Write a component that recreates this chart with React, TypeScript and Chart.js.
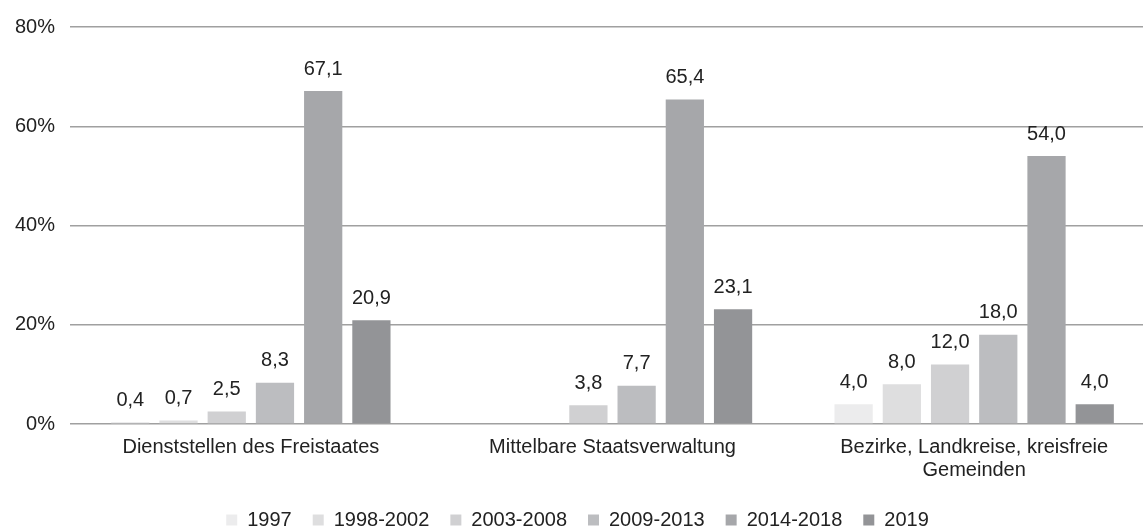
import React, { useEffect, useRef } from "react";
import { Chart, registerables } from "chart.js";

Chart.register(...registerables);

const categories: (string | string[])[] = [
  "Dienststellen des Freistaates",
  "Mittelbare Staatsverwaltung",
  ["Bezirke, Landkreise, kreisfreie", "Gemeinden"],
];
const seriesNames = ["1997", "1998-2002", "2003-2008", "2009-2013", "2014-2018", "2019"];
const v1997 = [0.4, null, 4.0];
const v1998 = [0.7, null, 8.0];
const v2003 = [2.5, 3.8, 12.0];
const v2009 = [8.3, 7.7, 18.0];
const v2014 = [67.1, 65.4, 54.0];
const v2019 = [20.9, 23.1, 4.0];
const seriesColors = ["#ececed", "#dededf", "#d0d0d2", "#bcbdc0", "#a6a7aa", "#939497"];
const yTicks = [0, 20, 40, 60, 80];

const FONT = "'Liberation Sans', Arial, sans-serif";
const FS = 20;

const labelPlugin = {
  id: "valueLabels",
  afterDatasetsDraw(chart: any) {
    const ctx = chart.ctx;
    ctx.save();
    ctx.font = `${FS}px ${FONT}`;
    ctx.fillStyle = "#222222";
    ctx.textAlign = "center";
    ctx.textBaseline = "middle";
    chart.data.datasets.forEach((ds: any, i: number) => {
      const meta = chart.getDatasetMeta(i);
      meta.data.forEach((bar: any, j: number) => {
        const v = ds.data[j];
        if (v === null || v === undefined) return;
        ctx.fillText(v.toFixed(1).replace(".", ","), bar.x, bar.y - 22);
      });
    });
    ctx.restore();
  },
};

export default function App() {
  const ref = useRef<HTMLCanvasElement>(null);
  useEffect(() => {
    document.body.style.margin = "0";
    const all = [v1997, v1998, v2003, v2009, v2014, v2019];
    const chart = new Chart(ref.current!, {
      type: "bar",
      data: {
        labels: categories,
        datasets: all.map((d, i) => ({
          label: seriesNames[i],
          data: d,
          backgroundColor: seriesColors[i],
          borderWidth: 0,
          categoryPercentage: 0.8,
          barPercentage: 0.793,
        })),
      },
      options: {
        animation: false,
        responsive: true,
        maintainAspectRatio: false,
        layout: { padding: { top: 6, right: 0, bottom: -12, left: 0 } },
        plugins: {
          legend: {
            position: "bottom",
            labels: {
              boxWidth: 11,
              boxHeight: 11,
              padding: 21,
              color: "#222222",
              font: { family: FONT, size: FS },
            },
          },
          tooltip: { enabled: false },
        },
        scales: {
          x: {
            grid: { display: false, drawTicks: false },
            border: { display: false },
            ticks: { color: "#222222", font: { family: FONT, size: FS, lineHeight: 1.15 }, padding: 12 },
            afterFit: (axis: any) => {
              axis.height -= 5;
            },
          },
          y: {
            min: 0,
            max: 80,
            afterBuildTicks: (axis: any) => {
              axis.ticks = yTicks.map((v) => ({ value: v }));
            },
            grid: { color: "#a0a0a0", lineWidth: 1.5, drawTicks: false },
            border: { display: false },
            ticks: {
              color: "#222222",
              font: { family: FONT, size: FS },
              padding: 15,
              callback: (v: any) => v + "%",
            },
          },
        },
      },
      plugins: [labelPlugin],
    });
    return () => chart.destroy();
  }, []);
  return (
    <div style={{ width: 1143, height: 528, overflow: "hidden", position: "relative" }}>
      <div style={{ width: 1155, height: 528, position: "relative" }}>
        <canvas ref={ref} />
      </div>
    </div>
  );
}
